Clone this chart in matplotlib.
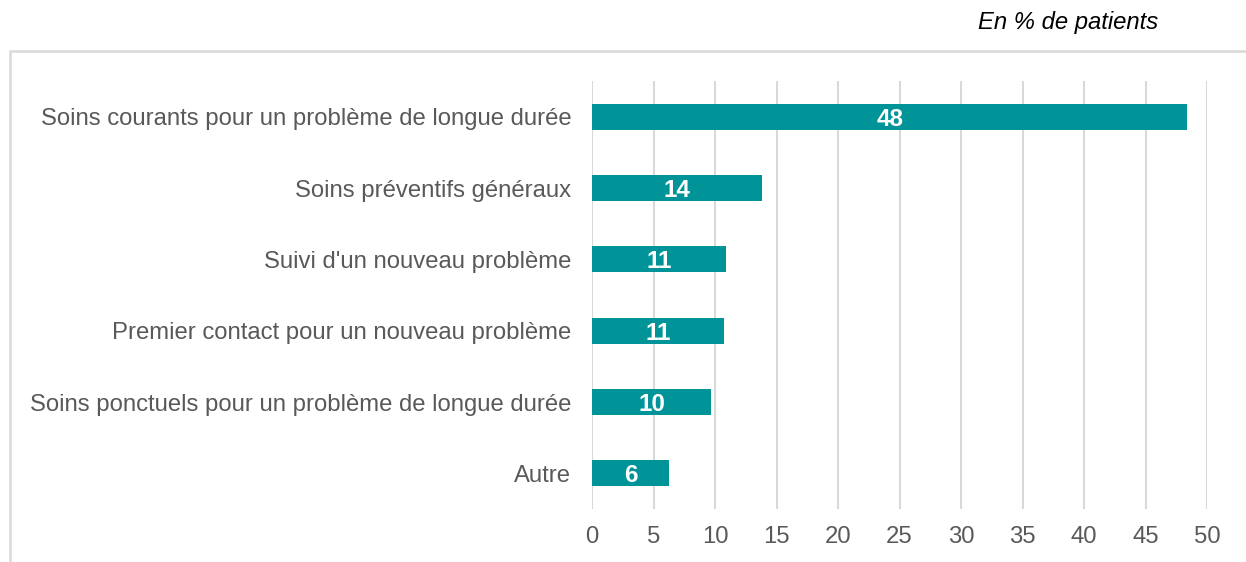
import matplotlib
matplotlib.use('Agg')
import matplotlib.pyplot as plt
from matplotlib.patches import Rectangle

# data (bar lengths) and the printed rounded labels
categories = [
    'Soins courants pour un problème de longue durée',
    'Soins préventifs généraux',
    "Suivi d'un nouveau problème",
    'Premier contact pour un nouveau problème',
    'Soins ponctuels pour un problème de longue durée',
    'Autre',
]
values = [48.4, 13.8, 10.9, 10.7, 9.7, 6.3]
value_labels = ['48', '14', '11', '11', '10', '6']
x_ticks = [0, 5, 10, 15, 20, 25, 30, 35, 40, 45, 50]

bar_color = '#009499'
grid_color = '#d9d9d9'
text_color = '#595959'

plt.rcParams['font.family'] = ['Liberation Sans', 'DejaVu Sans']

fig = plt.figure(figsize=(12.46, 5.62), dpi=100)
ax = fig.add_axes([592 / 1246, 1 - 509 / 562, 615 / 1246, 428 / 562])

# light frame round the chart, cut by the image edge on the right and bottom
frame = Rectangle((10 / 1246, -0.1), 1.2, 0.1 + (1 - 51 / 562), transform=fig.transFigure,
                  fill=False, edgecolor=grid_color, linewidth=1.8, clip_on=False)
fig.patches.append(frame)

y = list(range(len(categories)))
bars = ax.barh(y, values, height=0.36, color=bar_color, zorder=3)
for bar, lab in zip(bars, value_labels):
    ax.text(bar.get_width() / 2, bar.get_y() + bar.get_height() / 2, lab,
            ha='center', va='center_baseline', color='white', fontsize=17.5,
            fontweight='bold', zorder=4)

ax.set_xlim(0, 50)
ax.set_ylim(len(categories) - 0.5, -0.5)
ax.set_xticks(x_ticks)
ax.set_yticks(y)
ax.set_yticklabels(categories)
ax.tick_params(axis='both', length=0, labelsize=17.2, labelcolor=text_color)
ax.tick_params(axis='y', pad=15)
ax.tick_params(axis='x', pad=12)
ax.grid(axis='x', color=grid_color, linewidth=1.5, zorder=0)
ax.set_axisbelow(True)
for s in ax.spines.values():
    s.set_visible(False)

fig.text(1158 / 1246, 1 - 22 / 562, 'En % de patients', ha='right', va='center',
         fontsize=17.2, style='italic', color='black')

fig.savefig('out.png', dpi=100)
